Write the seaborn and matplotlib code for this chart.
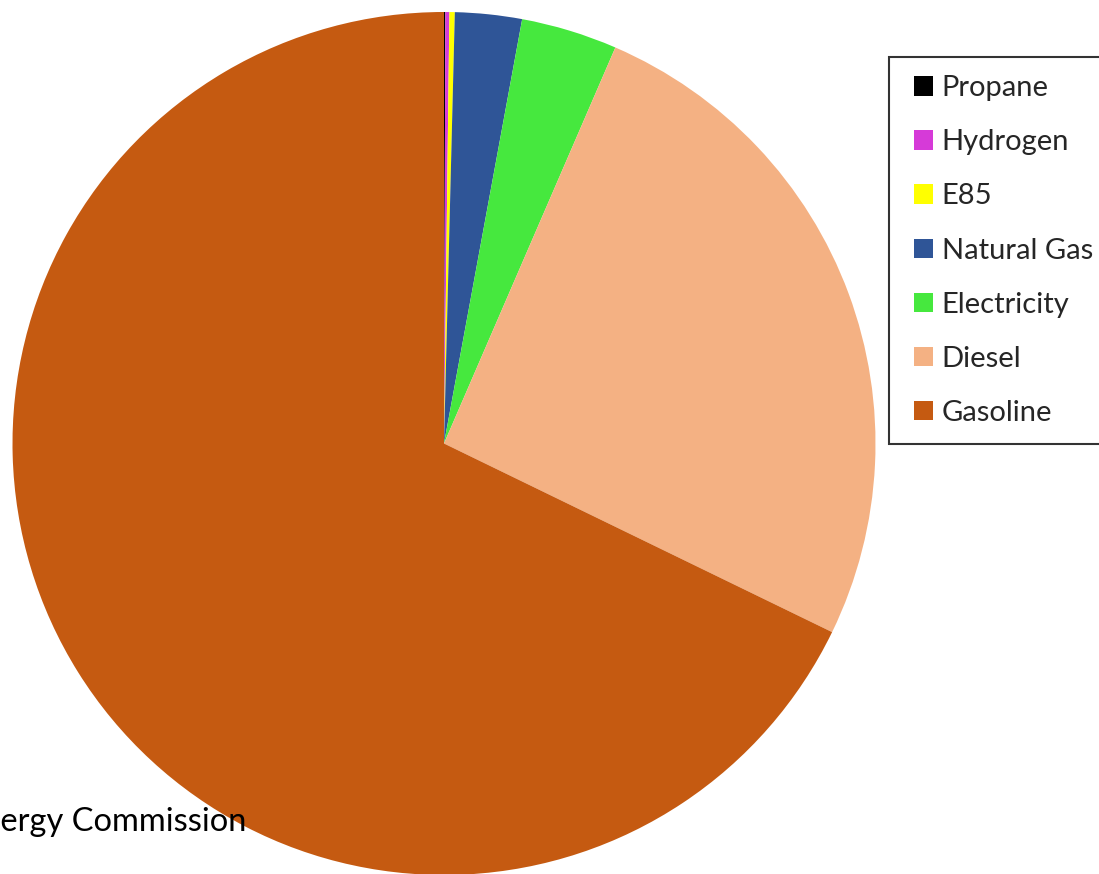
import matplotlib
matplotlib.use("Agg")
import matplotlib.pyplot as plt
from matplotlib.legend_handler import HandlerPatch
from matplotlib.patches import Patch
import seaborn as sns

# fuel share of vehicles (percent)
fuels = ["Propane", "Hydrogen", "E85", "Natural Gas", "Electricity", "Diesel", "Gasoline"]
share = [0.05, 0.15, 0.2, 2.5, 3.6, 25.7, 67.8]
colors = ["#000000", "#D63AD8", "#FFFF00", "#2F5597", "#46E83E", "#F4B183", "#C55A11"]
source = "Source: California Energy Commission"

sns.set_theme(style="white")
plt.rcParams['font.family'] = ['Lato', 'DejaVu Sans']

W, H = 1099, 874
fig = plt.figure(figsize=(W / 100, H / 100), dpi=100)
cx, cy, r = 444, 443.5, 431.5
ax = fig.add_axes([(cx - r) / W, (H - cy - r) / H, 2 * r / W, 2 * r / H])

wedges, _ = ax.pie(share, colors=colors, startangle=90, counterclock=False,
                   radius=1, wedgeprops=dict(linewidth=0))
ax.set_xlim(-1, 1)
ax.set_ylim(-1, 1)
ax.axis('off')

leg = fig.legend(wedges, fuels, loc='upper left',
                 bbox_to_anchor=(889 / W, 1 - 57 / H), borderaxespad=0,
                 fontsize=21, frameon=True, fancybox=False, edgecolor='black',
                 handlelength=0.9, handleheight=0.65, handletextpad=0.28,
                 labelspacing=0.965, borderpad=0.62,
                 handler_map={Patch: HandlerPatch(xpad=0.24)})
leg.get_frame().set_linewidth(1.5)

fig.text(246 / W, 1 - 831 / H, source, ha='right', va='baseline', fontsize=23.5,
         color='black', zorder=5)

fig.savefig("out.png", dpi=100)
